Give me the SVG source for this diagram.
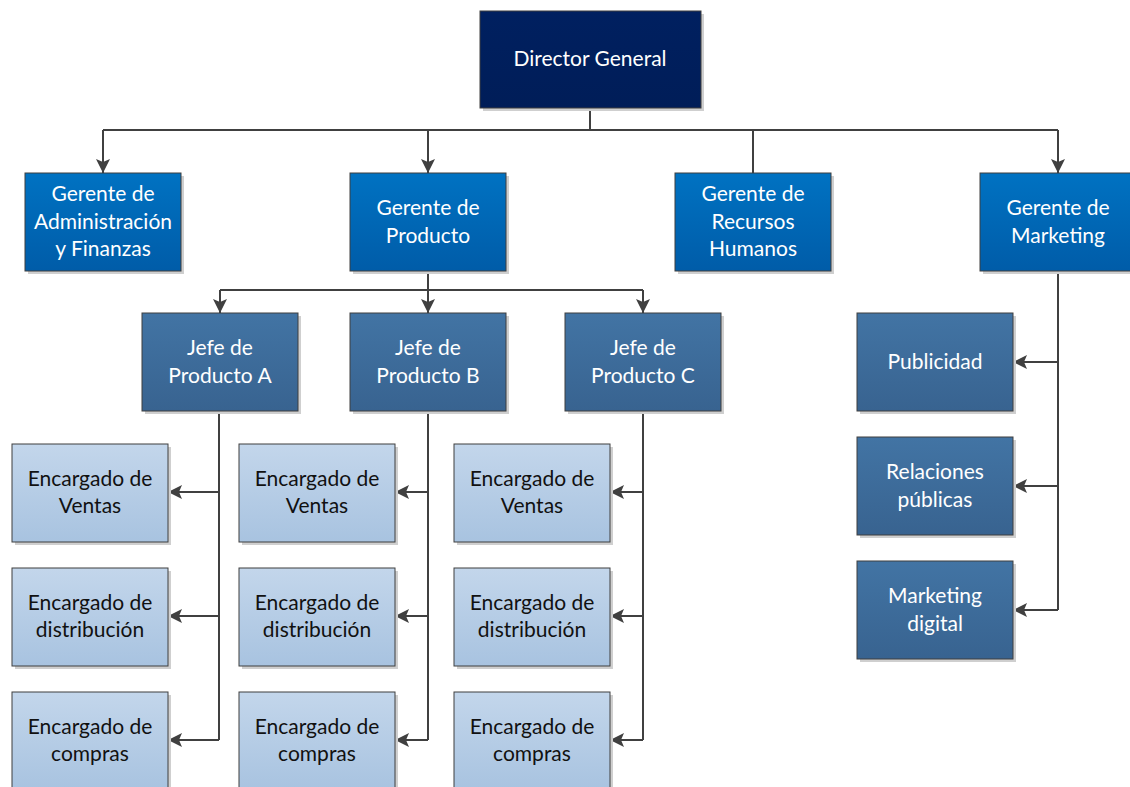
<svg xmlns="http://www.w3.org/2000/svg" width="1130" height="787" viewBox="0 0 1130 787">
<defs>
<linearGradient id="gDir" x1="0" y1="0" x2="0" y2="1"><stop offset="0" stop-color="#002060"/><stop offset="1" stop-color="#001d58"/></linearGradient>
<linearGradient id="gGer" x1="0" y1="0" x2="0" y2="1"><stop offset="0" stop-color="#0072c2"/><stop offset="1" stop-color="#005ca8"/></linearGradient>
<linearGradient id="gJefe" x1="0" y1="0" x2="0" y2="1"><stop offset="0" stop-color="#4274a4"/><stop offset="1" stop-color="#386390"/></linearGradient>
<linearGradient id="gEnc" x1="0" y1="0" x2="0" y2="1"><stop offset="0" stop-color="#c3d6eb"/><stop offset="1" stop-color="#a8c3e0"/></linearGradient>
<marker id="arr" viewBox="0 0 14 14" refX="14" refY="7" markerWidth="14" markerHeight="14" markerUnits="userSpaceOnUse" orient="auto">
<path d="M0,0 L14,7 L0,14 L3,7 Z" fill="#404040"/>
</marker>
</defs>
<style>
.box{stroke:#3f3f3f;stroke-width:1}
.sh{fill:#cfcfcf}
.dir{fill:url(#gDir)}
.ger{fill:url(#gGer)}
.jefe{fill:url(#gJefe)}
.enc{fill:url(#gEnc)}
text{font-family:Lato,"Open Sans","Liberation Sans",sans-serif;font-size:21px;text-anchor:middle}
.w{fill:#ffffff}
.k{fill:#111111}
.c{fill:none;stroke:#404040;stroke-width:2}
.ca{fill:none;stroke:#404040;stroke-width:2;marker-end:url(#arr)}
</style>
<rect width="1130" height="787" fill="#ffffff"/>

<g id="connectors">
<path class="c" d="M590,108 V130 M103,130 H1058"/>
<path class="ca" d="M103,130 V173"/>
<path class="ca" d="M428,130 V173"/>
<path class="c" d="M753,130 V173"/>
<path class="ca" d="M1058,130 V173"/>
<path class="c" d="M428,271 V290 M220,290 H643"/>
<path class="ca" d="M220,290 V313"/>
<path class="ca" d="M428,290 V313"/>
<path class="ca" d="M643,290 V313"/>
<path class="c" d="M1058,271 V610"/>
<path class="ca" d="M1058,362 H1013"/>
<path class="ca" d="M1058,486 H1013"/>
<path class="ca" d="M1058,610 H1013"/>
<path class="c" d="M219,411 V740"/>
<path class="ca" d="M219,492 H168"/>
<path class="ca" d="M219,616 H168"/>
<path class="ca" d="M219,740 H168"/>
<path class="c" d="M428,411 V740"/>
<path class="ca" d="M428,492 H395"/>
<path class="ca" d="M428,616 H395"/>
<path class="ca" d="M428,740 H395"/>
<path class="c" d="M643,411 V740"/>
<path class="ca" d="M643,492 H610"/>
<path class="ca" d="M643,616 H610"/>
<path class="ca" d="M643,740 H610"/>
</g>

<g id="director">
<rect class="sh" x="483" y="14" width="221" height="97"/>
<rect class="box dir" x="480" y="11" width="221" height="97"/>
<text class="w" x="590" y="66">Director General</text>
</g>

<g id="gerente-admin">
<rect class="sh" x="28" y="176" width="156" height="98"/>
<rect class="box ger" x="25" y="173" width="156" height="98"/>
<text class="w" x="103" y="201">Gerente de</text>
<text class="w" x="103" y="229">Administración</text>
<text class="w" x="103" y="256">y Finanzas</text>
</g>
<g id="gerente-producto">
<rect class="sh" x="353" y="176" width="156" height="98"/>
<rect class="box ger" x="350" y="173" width="156" height="98"/>
<text class="w" x="428" y="215">Gerente de</text>
<text class="w" x="428" y="243">Producto</text>
</g>
<g id="gerente-rrhh">
<rect class="sh" x="678" y="176" width="156" height="98"/>
<rect class="box ger" x="675" y="173" width="156" height="98"/>
<text class="w" x="753" y="201">Gerente de</text>
<text class="w" x="753" y="229">Recursos</text>
<text class="w" x="753" y="256">Humanos</text>
</g>
<g id="gerente-marketing">
<rect class="sh" x="983" y="176" width="156" height="98"/>
<rect class="box ger" x="980" y="173" width="156" height="98"/>
<text class="w" x="1058" y="215">Gerente de</text>
<text class="w" x="1058" y="243">Marketing</text>
</g>

<g id="jefe-a">
<rect class="sh" x="145" y="316" width="156" height="98"/>
<rect class="box jefe" x="142" y="313" width="156" height="98"/>
<text class="w" x="220" y="355">Jefe de</text>
<text class="w" x="220" y="383">Producto A</text>
</g>
<g id="jefe-b">
<rect class="sh" x="353" y="316" width="156" height="98"/>
<rect class="box jefe" x="350" y="313" width="156" height="98"/>
<text class="w" x="428" y="355">Jefe de</text>
<text class="w" x="428" y="383">Producto B</text>
</g>
<g id="jefe-c">
<rect class="sh" x="568" y="316" width="156" height="98"/>
<rect class="box jefe" x="565" y="313" width="156" height="98"/>
<text class="w" x="643" y="355">Jefe de</text>
<text class="w" x="643" y="383">Producto C</text>
</g>

<g id="publicidad">
<rect class="sh" x="860" y="316" width="156" height="98"/>
<rect class="box jefe" x="857" y="313" width="156" height="98"/>
<text class="w" x="935" y="369">Publicidad</text>
</g>
<g id="relaciones-publicas">
<rect class="sh" x="860" y="440" width="156" height="98"/>
<rect class="box jefe" x="857" y="437" width="156" height="98"/>
<text class="w" x="935" y="479">Relaciones</text>
<text class="w" x="935" y="507">públicas</text>
</g>
<g id="marketing-digital">
<rect class="sh" x="860" y="564" width="156" height="98"/>
<rect class="box jefe" x="857" y="561" width="156" height="98"/>
<text class="w" x="935" y="603">Marketing</text>
<text class="w" x="935" y="631">digital</text>
</g>

<g id="enc-a-ventas">
<rect class="sh" x="15" y="447" width="156" height="98"/>
<rect class="box enc" x="12" y="444" width="156" height="98"/>
<text class="k" x="90" y="486">Encargado de</text>
<text class="k" x="90" y="513">Ventas</text>
</g>
<g id="enc-a-distribucion">
<rect class="sh" x="15" y="571" width="156" height="98"/>
<rect class="box enc" x="12" y="568" width="156" height="98"/>
<text class="k" x="90" y="610">Encargado de</text>
<text class="k" x="90" y="637">distribución</text>
</g>
<g id="enc-a-compras">
<rect class="sh" x="15" y="695" width="156" height="98"/>
<rect class="box enc" x="12" y="692" width="156" height="98"/>
<text class="k" x="90" y="734">Encargado de</text>
<text class="k" x="90" y="761">compras</text>
</g>

<g id="enc-b-ventas">
<rect class="sh" x="242" y="447" width="156" height="98"/>
<rect class="box enc" x="239" y="444" width="156" height="98"/>
<text class="k" x="317" y="486">Encargado de</text>
<text class="k" x="317" y="513">Ventas</text>
</g>
<g id="enc-b-distribucion">
<rect class="sh" x="242" y="571" width="156" height="98"/>
<rect class="box enc" x="239" y="568" width="156" height="98"/>
<text class="k" x="317" y="610">Encargado de</text>
<text class="k" x="317" y="637">distribución</text>
</g>
<g id="enc-b-compras">
<rect class="sh" x="242" y="695" width="156" height="98"/>
<rect class="box enc" x="239" y="692" width="156" height="98"/>
<text class="k" x="317" y="734">Encargado de</text>
<text class="k" x="317" y="761">compras</text>
</g>

<g id="enc-c-ventas">
<rect class="sh" x="457" y="447" width="156" height="98"/>
<rect class="box enc" x="454" y="444" width="156" height="98"/>
<text class="k" x="532" y="486">Encargado de</text>
<text class="k" x="532" y="513">Ventas</text>
</g>
<g id="enc-c-distribucion">
<rect class="sh" x="457" y="571" width="156" height="98"/>
<rect class="box enc" x="454" y="568" width="156" height="98"/>
<text class="k" x="532" y="610">Encargado de</text>
<text class="k" x="532" y="637">distribución</text>
</g>
<g id="enc-c-compras">
<rect class="sh" x="457" y="695" width="156" height="98"/>
<rect class="box enc" x="454" y="692" width="156" height="98"/>
<text class="k" x="532" y="734">Encargado de</text>
<text class="k" x="532" y="761">compras</text>
</g>
</svg>
